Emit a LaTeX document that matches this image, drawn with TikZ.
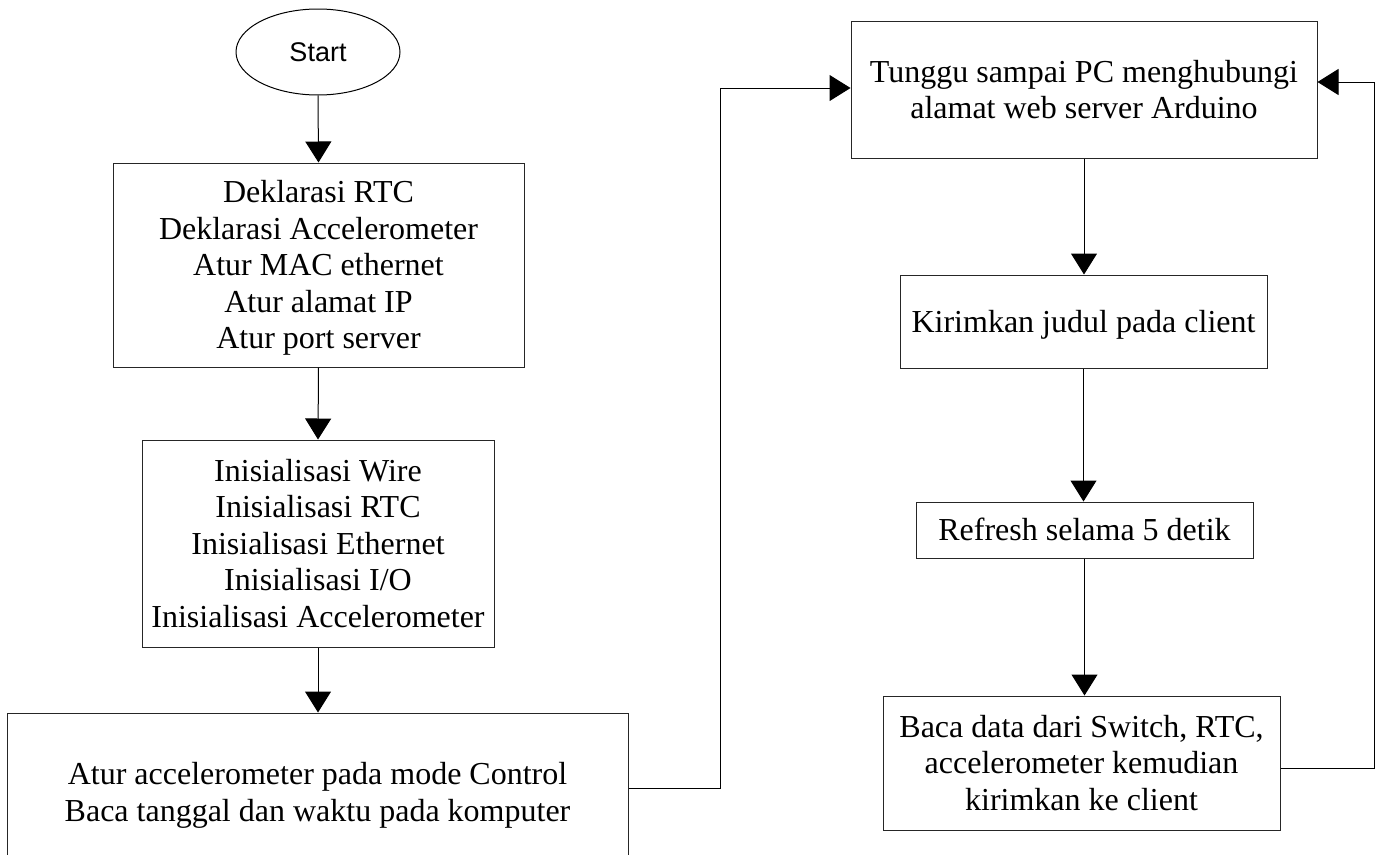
\documentclass[tikz,border=0pt]{standalone}
\usepackage{fontspec}
\setmainfont{Liberation Serif}
\newfontfamily\startfont{Liberation Sans}
\usetikzlibrary{shapes.geometric,arrows.meta}
% line strut: full ascent/descent of the face, so every line box has the same height
\newcommand\lstrut{\rule[-0.216em]{0pt}{1.107em}}
\tikzset{
  x=1pt, y=-1pt,
  procbox/.style={draw=black!85, line width=1pt, rectangle, inner sep=0pt, align=center,
    font=\fontsize{32}{36.5}\selectfont},
  termbox/.style={draw=black, line width=1pt, ellipse, inner sep=0pt,
    font=\startfont\fontsize{27}{32}\selectfont},
  flow/.style={draw=black, line width=1pt, -{Triangle[length=21pt,width=26pt]}}
}
\begin{document}
\begin{tikzpicture}
\useasboundingbox (0,0) rectangle (1378,854);
\clip (0,0) rectangle (1378,854);
\fill[white] (0,0) rectangle (1378,854);

% left column
\node[termbox, minimum width=164pt, minimum height=86pt] (start) at (318,52) {Start};
\node[procbox, minimum width=411pt, minimum height=204pt] (decl) at (318.5,265)
  {\lstrut Deklarasi RTC\\Deklarasi Accelerometer\\Atur MAC ethernet\\Atur alamat IP\\Atur port server\lstrut};
\node[procbox, minimum width=352pt, minimum height=207pt] (init) at (318,543.5)
  {\lstrut Inisialisasi Wire\\Inisialisasi RTC\\Inisialisasi Ethernet\\Inisialisasi I/O\\Inisialisasi Accelerometer\lstrut};
\node[procbox, minimum width=621pt, minimum height=158pt] (mode) at (317.5,792)
  {\lstrut Atur accelerometer pada mode Control\\Baca tanggal dan waktu pada komputer\lstrut};

% right column
\node[procbox, minimum width=466pt, minimum height=137pt] (wait) at (1084,89.5)
  {\lstrut Tunggu sampai PC menghubungi\\alamat web server Arduino\lstrut};
\node[procbox, minimum width=367pt, minimum height=93pt] (title) at (1083.5,321.5)
  {\lstrut Kirimkan judul pada client\lstrut};
\node[procbox, minimum width=337pt, minimum height=56pt] (refresh) at (1084.5,530)
  {\lstrut Refresh selama 5 detik\lstrut};
\node[procbox, minimum width=397pt, minimum height=134pt] (send) at (1081.5,763)
  {\lstrut Baca data dari Switch, RTC,\\accelerometer kemudian\\kirimkan ke client\lstrut};

% routing points
\coordinate (j1) at (720,788);
\coordinate (j2) at (720,88);
\coordinate (k1) at (1374,768);
\coordinate (k2) at (1374,82);

% connectors
\draw[flow] (start.south) -- (decl.north);
\draw[flow] (decl.south) -- (init.north);
\draw[flow] (init.south) -- (init.south |- mode.north);
\draw[flow] (mode.east |- j1) -- (j1) -- (j2) -- (wait.west |- j2);
\draw[flow] (wait.south) -- (wait.south |- title.north);
\draw[flow] (title.south) -- (title.south |- refresh.north);
\draw[flow] (refresh.south) -- (refresh.south |- send.north);
\draw[flow] (send.east |- k1) -- (k1) -- (k2) -- (wait.east |- k2);
\end{tikzpicture}
\end{document}
